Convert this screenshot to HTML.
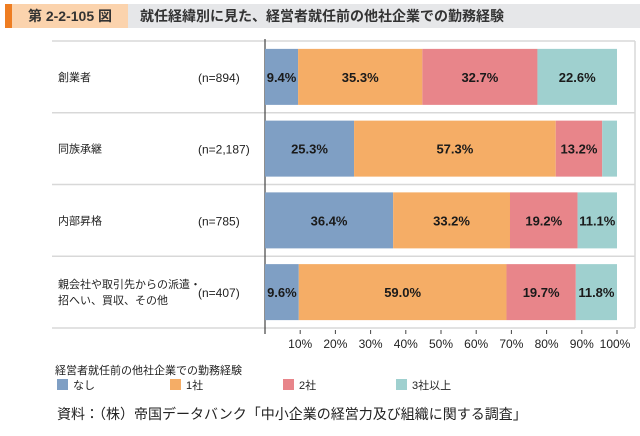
<!DOCTYPE html>
<html><head><meta charset="utf-8"><style>
body{margin:0;width:640px;height:436px;background:#fff;font-family:"Liberation Sans","Noto Sans CJK JP",sans-serif;overflow:hidden;position:relative}
.abs{position:absolute}
</style></head><body>
<div class="abs" style="left:5px;top:4px;width:635px;height:24px;background:#e6e7e9"></div>
<div class="abs" style="left:5px;top:4px;width:7px;height:24px;background:#ee7d22"></div>
<div class="abs" style="left:12px;top:4px;width:116px;height:24px;background:#fbd3ad;font-size:14px;font-weight:bold;line-height:24px;text-align:center;color:#333">第 2-2-105 図</div>
<div class="abs" style="left:140px;top:4px;height:24px;font-size:14px;font-weight:bold;line-height:24px;color:#333">就任経緯別に見た、経営者就任前の他社企業での勤務経験</div>
<svg class="abs" style="left:0;top:0" width="640" height="436" id="chart"></svg>
<div class="abs" style="left:57px;top:404px;font-size:14px;color:#222">資料：（株）帝国データバンク「中小企業の経営力及び組織に関する調査」</div>
<script>
const categories=["創業者","同族承継","内部昇格","親会社や取引先からの派遣・|招へい、買収、その他"];
const counts=["(n=894)","(n=2,187)","(n=785)","(n=407)"];
const seriesNames=["なし","1社","2社","3社以上"];
const s0=[9.4,25.3,36.4,9.6];
const s1=[35.3,57.3,33.2,59.0];
const s2=[32.7,13.2,19.2,19.7];
const s3=[22.6,4.2,11.2,11.7];
const s3Labels=["22.6%","","11.1%","11.8%"];
const ticks=[10,20,30,40,50,60,70,80,90,100];
const colors=["#7f9fc4","#f5ad66","#e8858a","#9fd0cf"];
const svg=document.getElementById('chart');
const NS="http://www.w3.org/2000/svg";
const x0=265,x1=617,rowTop=41,rowH=71.75;
const xs=v=>x0+(x1-x0)*v/100;
function mk(t,a){const e=document.createElementNS(NS,t);for(const k in a)e.setAttribute(k,a[k]);svg.appendChild(e);return e;}
for(let i=0;i<=4;i++){const l=mk('line',{x1:52,x2:635,y1:rowTop+i*rowH,y2:rowTop+i*rowH,stroke:'#d8d8d8','stroke-width':1.5});

}
const rb=mk('line',{x1:635,x2:635,y1:rowTop,y2:rowTop+4*rowH,stroke:'#d8d8d8','stroke-width':1.5});


const ax=mk('line',{x1:x0,x2:x0,y1:rowTop-2,y2:334,stroke:'#444','stroke-width':1.2});


const series=[s0,s1,s2,s3];
categories.forEach((c,i)=>{
  const yc=rowTop+i*rowH+rowH/2;
  const lines=c.split('|');
  lines.forEach((ln,j)=>{const t=mk('text',{x:58,y:yc+4+(j-(lines.length-1)/2)*16,'font-size':11,fill:'#222'});t.textContent=ln;
  
  });
  const n=mk('text',{x:198,y:yc+5,'font-size':12,fill:'#222'});n.textContent=counts[i];
  
  
  let acc=0;
  series.forEach((s,k)=>{
    const v=s[i];const r=mk('rect',{x:xs(acc),y:yc-28,width:xs(acc+v)-xs(acc),height:56,fill:colors[k]});
    
    
    const lab=k===3?s3Labels[i]:v.toFixed(1)+'%';
    if(lab&&v>5){const t=mk('text',{x:(xs(acc)+xs(acc+v))/2,y:yc+5,'font-size':13,'font-weight':'bold','text-anchor':'middle',fill:'#1a1a1a'});t.textContent=lab;
    
    }
    acc+=v;
  });
});
ticks.forEach(t=>{const l=mk('line',{x1:xs(t),x2:xs(t),y1:330,y2:334,stroke:'#444'});


const tx=mk('text',{x:xs(t)+(t===100?-2:0),y:348,'font-size':12,'text-anchor':'middle',fill:'#222'});tx.textContent=t+'%';

});
const lt=mk('text',{x:55,y:374,'font-size':11,fill:'#222'});lt.textContent='経営者就任前の他社企業での勤務経験';


seriesNames.forEach((s,k)=>{const lx=57+k*113;
const r=mk('rect',{x:lx,y:379,width:11,height:11,fill:colors[k]});


const t=mk('text',{x:lx+16,y:389,'font-size':11,fill:'#222'});t.textContent=s;

});
</script>
</body></html>
